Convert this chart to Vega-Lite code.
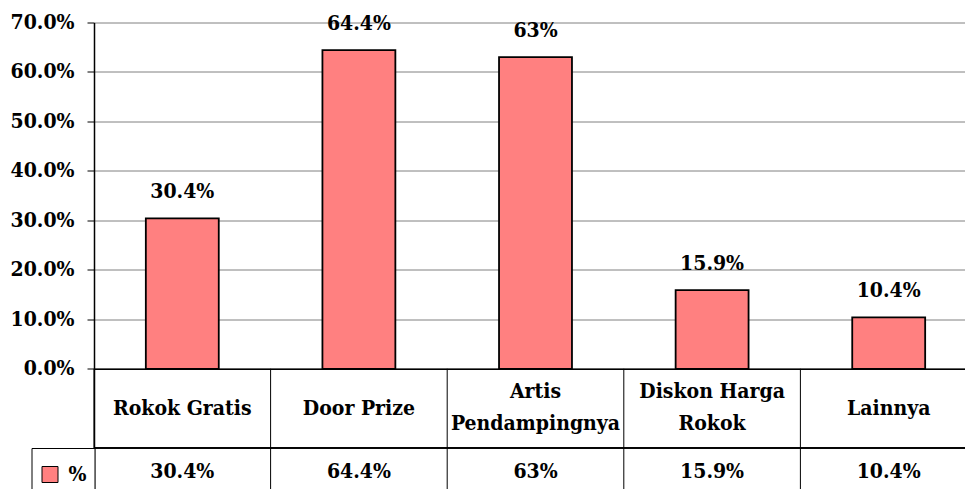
{
  "$schema": "https://vega.github.io/schema/vega-lite/v6.json",
  "width": 871,
  "height": 466.5,
  "autosize": {"type": "none"},
  "padding": {"left": 94, "top": 22.5, "right": 0, "bottom": 0},
  "background": "white",
  "config": {
    "view": {"stroke": null},
    "font": "DejaVu Serif Condensed",
    "axisY": {
      "grid": true,
      "gridColor": "#808080",
      "gridWidth": 1,
      "domain": true,
      "domainColor": "black",
      "domainWidth": 1.5,
      "ticks": true,
      "tickColor": "black",
      "tickSize": 7,
      "tickWidth": 1,
      "labelPadding": 13,
      "labelFont": "DejaVu Serif Condensed",
      "labelFontSize": 21,
      "labelFontWeight": "bold",
      "labelColor": "black",
      "title": null
    },
    "axisX": {
      "grid": false,
      "ticks": false,
      "tickSize": 0,
      "domain": true,
      "domainColor": "black",
      "domainWidth": 1.5,
      "labelAngle": 0,
      "labelFont": "DejaVu Serif Condensed",
      "labelFontSize": 21,
      "labelFontWeight": "bold",
      "labelColor": "black",
      "labelBaseline": "middle",
      "labelLineHeight": 32,
      "labelLimit": 400,
      "title": null
    }
  },
  "data": {
    "values": [
      {"category": "Rokok Gratis", "share": 0.304},
      {"category": "Door Prize", "share": 0.644},
      {"category": "Artis Pendampingnya", "share": 0.63},
      {"category": "Diskon Harga Rokok", "share": 0.159},
      {"category": "Lainnya", "share": 0.104}
    ]
  },
  "layer": [
    {
      "mark": {"type": "bar", "stroke": "black", "strokeWidth": 1.8, "width": {"band": 0.413}},
      "encoding": {
        "x": {
          "field": "category",
          "type": "nominal",
          "sort": null,
          "scale": {"range": [0, 883], "paddingInner": 0, "paddingOuter": 0},
          "axis": {
            "orient": "bottom",
            "offset": -120.2,
            "title": null,
            "labelPadding": {"condition": {"test": "datum.value == 'Artis Pendampingnya' || datum.value == 'Diskon Harga Rokok'", "value": 23}, "value": 39.5},
            "labelExpr": "datum.label == 'Artis Pendampingnya' ? ['Artis', 'Pendampingnya'] : datum.label == 'Diskon Harga Rokok' ? ['Diskon Harga', 'Rokok'] : datum.label"
          }
        },
        "y": {
          "field": "share",
          "type": "quantitative",
          "scale": {"domain": [-0.243, 0.7], "nice": false, "zero": false},
          "axis": {"title": null, "values": [0, 0.1, 0.2, 0.3, 0.4, 0.5, 0.6, 0.7], "format": ".1%"}
        },
        "y2": {"datum": 0},
        "color": {
          "datum": "%",
          "scale": {"range": ["#FF8080"]},
          "legend": {
            "orient": "none",
            "legendX": -62.5,
            "legendY": 425.5,
            "padding": 8,
            "strokeColor": "black",
            "fillColor": "white",
            "title": " ",
            "titleFontSize": 2,
            "titlePadding": 6,
            "symbolType": "square",
            "symbolSize": 256,
            "symbolStrokeColor": "black",
            "symbolStrokeWidth": 1,
            "labelFont": "DejaVu Serif Condensed",
            "labelFontSize": 21,
            "labelFontWeight": "bold",
            "labelColor": "black",
            "labelOffset": 8
          }
        }
      }
    },
    {
      "mark": {"type": "text", "baseline": "alphabetic", "dy": -20, "font": "DejaVu Serif Condensed", "fontSize": 21, "fontWeight": "bold", "color": "black"},
      "encoding": {
        "x": {"field": "category", "type": "nominal", "sort": null},
        "y": {"field": "share", "type": "quantitative"},
        "text": {"field": "share", "type": "quantitative", "format": ".1~%"}
      }
    },
    {
      "mark": {"type": "rule", "color": "black", "strokeWidth": 1},
      "encoding": {
        "x": {"field": "category", "type": "nominal", "sort": null, "bandPosition": 0},
        "y": {"datum": 0},
        "y2": {"datum": -0.26}
      }
    },
    {
      "mark": {"type": "rule", "color": "black", "strokeWidth": 1},
      "encoding": {
        "y": {"datum": -0.1601}
      }
    },
    {
      "mark": {"type": "text", "baseline": "middle", "font": "DejaVu Serif Condensed", "fontSize": 21, "fontWeight": "bold", "color": "black"},
      "encoding": {
        "x": {"field": "category", "type": "nominal", "sort": null},
        "y": {"datum": -0.2092},
        "text": {"field": "share", "type": "quantitative", "format": ".1~%"}
      }
    }
  ]
}
